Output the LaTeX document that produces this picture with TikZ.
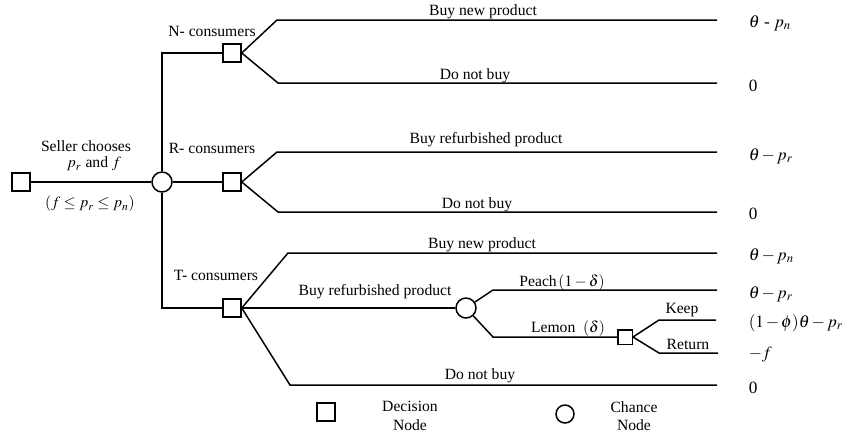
\documentclass[tikz,border=0pt]{standalone}
\usepackage{mathptmx}
\usepackage[no-math]{fontspec}
\setmainfont{Liberation Serif}
\tikzset{
  dnode/.style={draw, rectangle, fill=white, minimum size=0.36cm, inner sep=0pt},
  sdnode/.style={draw, rectangle, fill=white, minimum size=0.29cm, inner sep=0pt},
  cnode/.style={draw, circle, fill=white, minimum size=0.40cm, inner sep=0pt},
  lbl/.style={inner sep=1pt},
  pay/.style={anchor=west, inner sep=0pt, font=\fontsize{9.8}{12}\selectfont,
    execute at begin node={\medmuskip=2mu\relax}}
}
\begin{document}
\begin{tikzpicture}[x=0.02cm, y=-0.02cm, line width=0.85pt, font=\fontsize{8.9}{10.5}\selectfont]
    \useasboundingbox (0,0) rectangle (842,434);

    % Seller
    \node[dnode] (start) at (21,182) {};
    \node[cnode] (ch0) at (162,182) {};
    \node[lbl] (sel1) at (86,146) {Seller chooses};
    \node[lbl] (sel2) at (94,164) {$p_r$ and $f$};
    \node[lbl] (sel3) at (90,204) {$\left(f \le p_r \le p_n\right)$};

    % consumer types
    \node[dnode] (sqN) at (232,53) {};
    \node[dnode] (sqR) at (232,182) {};
    \node[dnode] (sqT) at (232,308) {};
    \draw (start) -- (ch0) -- (sqR);
    \draw (ch0) |- (sqN);
    \draw (ch0) |- (sqT);
    \node[lbl] (tN) at (212,31) {N- consumers};
    \node[lbl] (tR) at (212,148) {R- consumers};
    \node[lbl] (tT) at (216,275) {T- consumers};

    % N- consumers
    \coordinate (n1) at (277,20);  \coordinate (n1e) at (717,20);
    \coordinate (n2) at (278,83);  \coordinate (n2e) at (717,83);
    \draw (sqN.east) -- (n1) -- (n1e);
    \draw (sqN.east) -- (n2) -- (n2e);
    \node[lbl] (bN1) at (483,12) {Buy new product};
    \node[lbl] (bN2) at (475,76) {Do not buy};
    \node[pay] (pN1) at (748,23) {$\theta$ - $p_n$};
    \node[pay] (pN2) at (748,86) {0};

    % R- consumers
    \coordinate (r1) at (277,152); \coordinate (r1e) at (717,152);
    \coordinate (r2) at (278,212); \coordinate (r2e) at (717,212);
    \draw (sqR.east) -- (r1) -- (r1e);
    \draw (sqR.east) -- (r2) -- (r2e);
    \node[lbl] (bR1) at (486,140) {Buy refurbished product};
    \node[lbl] (bR2) at (477,205) {Do not buy};
    \node[pay] (pR1) at (748,156) {$\theta - p_r$};
    \node[pay] (pR2) at (748,214) {0};

    % T- consumers
    \node[cnode] (chT) at (466,308) {};
    \node[sdnode] (sqL) at (625,337) {};
    \coordinate (t1) at (288,253); \coordinate (t1e) at (717,253);
    \coordinate (t3) at (290,385); \coordinate (t3e) at (717,385);
    \coordinate (pc) at (493,290); \coordinate (pce) at (717,290);
    \coordinate (lm) at (493,337);
    \coordinate (kp) at (659,320); \coordinate (kpe) at (716,320);
    \coordinate (rt) at (659,353); \coordinate (rte) at (718,353);
    \draw (sqT.east) -- (t1) -- (t1e);
    \draw (sqT.east) -- (chT);
    \draw (sqT.east) -- (t3) -- (t3e);
    \draw (chT) -- (pc) -- (pce);
    \draw (chT) -- (lm) -- (sqL);
    \draw (sqL.east) -- (kp) -- (kpe);
    \draw (sqL.east) -- (rt) -- (rte);
    \node[lbl] (bT1) at (482,245) {Buy new product};
    \node[lbl] (bT2) at (375,292) {Buy refurbished product};
    \node[lbl] (bT3) at (480,376) {Do not buy};
    \node[lbl] (bPc) at (562,283) {Peach$\,(1-\delta)$};
    \node[lbl] (bLm) at (568,329) {Lemon\ \ $(\delta)$};
    \node[lbl] (bKp) at (682,310) {Keep};
    \node[lbl] (bRt) at (688,344) {Return};
    \node[pay] (pT1) at (748,256) {$\theta - p_n$};
    \node[pay] (pT2) at (748,294) {$\theta - p_r$};
    \node[pay] (pT3) at (748,323) {$(1-\phi)\theta - p_r$};
    \node[pay] (pT4) at (748,355) {$-f$};
    \node[pay] (pT5) at (748,388) {0};

    % legend
    \node[dnode] (lgD) at (326,412) {};
    \node[lbl, align=center] (lgDt) at (410,416) {Decision\\Node};
    \node[cnode, minimum size=0.36cm] (lgC) at (565,414) {};
    \node[lbl, align=center] (lgCt) at (634,416) {Chance\\Node};
\end{tikzpicture}
\end{document}
